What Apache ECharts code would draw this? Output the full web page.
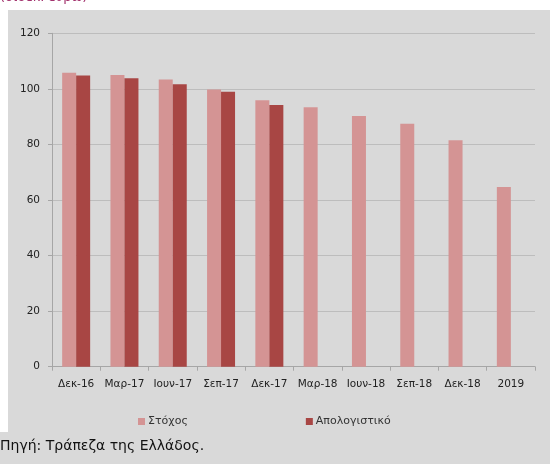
<!DOCTYPE html>
<html>
<head>
<meta charset="utf-8">
<script src="https://cdn.jsdelivr.net/npm/echarts@6/dist/echarts.min.js"></script>
<style>
  html, body { margin: 0; padding: 0; background: #fff; }
  #chart { width: 550px; height: 464px; }
</style>
</head>
<body>
<div id="chart"></div>
<script>
const categories = ['Δεκ-16', 'Μαρ-17', 'Ιουν-17', 'Σεπ-17', 'Δεκ-17', 'Μαρ-18', 'Ιουν-18', 'Σεπ-18', 'Δεκ-18', '2019'];
const targetValues = [105.8, 105.0, 103.4, 99.8, 95.9, 93.4, 90.2, 87.4, 81.5, 64.7];
const actualValues = [104.8, 103.8, 101.7, 99.0, 94.2, null, null, null, null, null];
const yTicks = [0, 20, 40, 60, 80, 100, 120];

const font = 'DejaVu Sans';
const chart = echarts.init(document.getElementById('chart'));

chart.setOption({
    backgroundColor: '#fff',
    animation: false,
    graphic: [
        { type: 'rect', z: -10, shape: { x: 8, y: 10, width: 542, height: 454 }, style: { fill: '#d9d9d9' } },
        { type: 'rect', z: -10, shape: { x: 0, y: 432, width: 550, height: 32 }, style: { fill: '#d9d9d9' } },
        { type: 'text', left: 0, top: -9, style: { text: '(δισεκ. ευρώ)', fill: '#a3336e', font: '13px ' + font } },
        { type: 'text', left: 0, top: 439, style: { text: 'Πηγή: Τράπεζα της Ελλάδος.', fill: '#111', font: '14px ' + font } }
    ],
    grid: { left: 52, right: 15, top: 33.3, bottom: 97.3, containLabel: false },
    legend: {
        left: 133, top: 411,
        itemWidth: 7, itemHeight: 7, itemGap: 118,
        icon: 'rect',
        textStyle: { fontFamily: font, fontSize: 11, color: '#333', padding: [0, 0, 0, -2] },
        data: ['Στόχος', 'Απολογιστικό']
    },
    xAxis: {
        type: 'category',
        data: categories,
        axisLine: { lineStyle: { color: '#a6a6a6' } },
        axisTick: { show: true, length: 4, lineStyle: { color: '#a6a6a6' } },
        axisLabel: { fontFamily: font, fontSize: 10.5, color: '#222', margin: 12, interval: 0 }
    },
    yAxis: {
        type: 'value',
        min: yTicks[0], max: yTicks[yTicks.length - 1], interval: 20,
        axisLine: { show: true, lineStyle: { color: '#a6a6a6' } },
        axisTick: { show: true, length: 4, lineStyle: { color: '#a6a6a6' } },
        splitLine: { lineStyle: { color: '#bdbdbd', width: 1.2 } },
        axisLabel: { fontFamily: font, fontSize: 10.5, color: '#222', margin: 12 }
    },
    series: [
        {
            name: 'Στόχος', type: 'bar', data: targetValues,
            barWidth: 14, barGap: '0%',
            itemStyle: { color: '#d49494' }
        },
        {
            name: 'Απολογιστικό', type: 'bar', data: actualValues,
            barWidth: 14,
            itemStyle: { color: '#a84644' }
        }
    ]
});
</script>
</body>
</html>
